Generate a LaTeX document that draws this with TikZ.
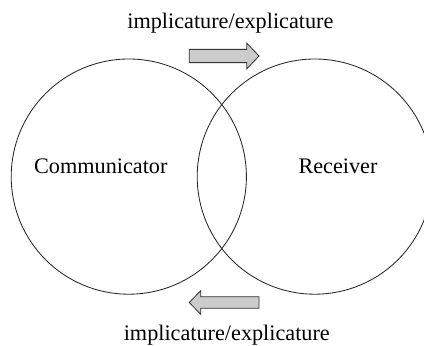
\documentclass[tikz,border=0pt]{standalone}
\usepackage{fontspec}
\setmainfont{Liberation Serif}
\tikzset{
  ring/.style={draw=black!85, line width=0.6pt},
  fatarrow/.style={draw=black!80, fill=black!20, line width=0.6pt, line join=miter},
  lbl/.style={anchor=base, inner sep=0pt, font=\fontsize{15.8}{18}\selectfont}
}
\begin{document}
\begin{tikzpicture}
    \clip (0,0) rectangle (10.6,8.625);
    % the two overlapping circles
    \draw[ring] (3.22,4.21) circle (2.94);
    \draw[ring] (7.87,4.21) circle (2.94);
    \node[lbl] (comm) at (2.52,4.3)  {Communicator};
    \node[lbl] (recv) at (8.45,4.3)  {Receiver};
    % block arrows, top goes right, bottom goes left
    \draw[fatarrow] (4.73,7.06) -- (6.17,7.06) -- (6.17,6.905) -- (6.475,7.225)
        -- (6.17,7.545) -- (6.17,7.39) -- (4.73,7.39) -- cycle;
    \draw[fatarrow] (6.475,0.9175) -- (5.02,0.9175) -- (5.02,0.7675) -- (4.73,1.0625)
        -- (5.02,1.3575) -- (5.02,1.2075) -- (6.475,1.2075) -- cycle;
    \node[lbl] (toRecv)   at (5.76,7.9)   {implicature/explicature};
    \node[lbl] (fromRecv) at (5.67,0.125) {implicature/explicature};
\end{tikzpicture}
\end{document}
